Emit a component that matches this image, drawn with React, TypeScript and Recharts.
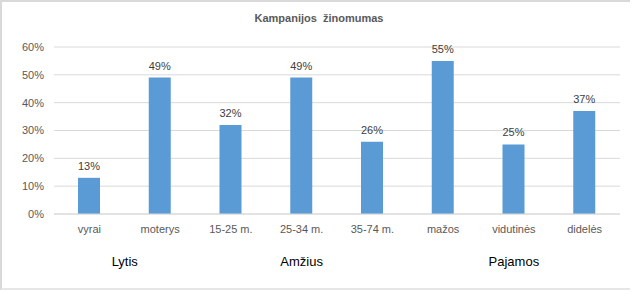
import { BarChart, Bar, XAxis, YAxis, CartesianGrid, LabelList } from 'recharts'

const categories = ['vyrai', 'moterys', '15-25 m.', '25-34 m.', '35-74 m.', 'mažos', 'vidutinės', 'didelės']
const awareness = [13, 49, 32, 49, 26, 55, 25, 37]
const groupNames = ['Lytis', 'Amžius', 'Pajamos']
const groupSizes = [2, 3, 3]
const yTicks = [0, 10, 20, 30, 40, 50, 60]

const data = categories.map((c, i) => ({ category: c, value: awareness[i] }))

// centre of each group, in category units
const groupCentres = groupSizes.map((n, i) => {
    const start = groupSizes.slice(0, i).reduce((a, b) => a + b, 0)
    return start + n / 2
})

const font = '"Liberation Sans", Arial, sans-serif'

export default function App() {
    return (
        <div
            style={{
                position: 'absolute',
                left: 0,
                top: 0,
                width: 638,
                height: 294,
                background: '#fff',
                fontFamily: font,
            }}
        >
            <div
                style={{
                    position: 'absolute',
                    left: 0,
                    top: 0,
                    width: 630,
                    height: 290,
                    borderTop: '2px solid #d9d9d9',
                    borderLeft: '2px solid #d9d9d9',
                    borderBottom: '2px solid #e6e6e6',
                    boxSizing: 'border-box',
                }}
            />
            <div
                style={{
                    position: 'absolute',
                    top: 12,
                    width: 638,
                    textAlign: 'center',
                    fontSize: 11,
                    fontWeight: 'bold',
                    color: '#595959',
                    whiteSpace: 'pre',
                }}
            >
                Kampanijos  žinomumas
            </div>
            <BarChart
                width={638}
                height={294}
                data={data}
                margin={{ top: 47, right: 18, bottom: 20, left: 0 }}
                style={{ position: 'absolute', left: 0, top: 0 }}
            >
                <CartesianGrid vertical={false} stroke="#d9d9d9" />
                <YAxis
                    width={54}
                    domain={[0, 60]}
                    ticks={yTicks}
                    tickFormatter={(v) => `${v}%`}
                    axisLine={false}
                    tickLine={false}
                    tickMargin={4}
                    tick={{ fontSize: 11, fill: '#595959', fontFamily: font }}
                />
                <XAxis
                    dataKey="category"
                    height={30}
                    axisLine={{ stroke: '#d9d9d9' }}
                    tickLine={false}
                    tickMargin={5}
                    interval={0}
                    tick={{ fontSize: 11, fill: '#595959', fontFamily: font }}
                />
                <XAxis
                    xAxisId="group"
                    type="number"
                    dataKey={(_d: unknown) => 0}
                    domain={[0, categories.length]}
                    allowDataOverflow
                    ticks={groupCentres}
                    tickFormatter={(v) => groupNames[groupCentres.indexOf(v)] ?? ''}
                    height={30}
                    axisLine={false}
                    tickLine={false}
                    tickMargin={7}
                    interval={0}
                    tick={{ fontSize: 13, fill: '#000', fontFamily: font }}
                />
                <Bar dataKey="value" fill="#5b9bd5" barSize={22} isAnimationActive={false}>
                    <LabelList
                        dataKey="value"
                        position="top"
                        offset={8}
                        formatter={(v: number) => `${v}%`}
                        style={{ fontSize: 11, fill: '#404040', fontFamily: font }}
                    />
                </Bar>
            </BarChart>
        </div>
    )
}
